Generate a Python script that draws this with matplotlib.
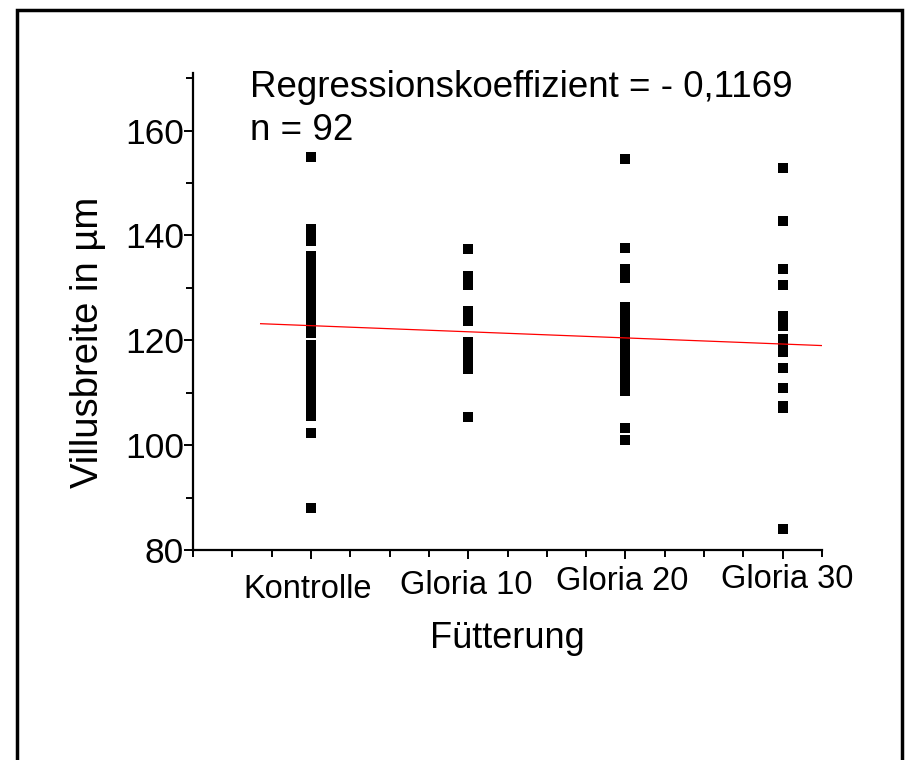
import matplotlib.pyplot as plt
import numpy as np
from matplotlib.patches import Rectangle
from matplotlib.ticker import MultipleLocator

plt.rcParams['font.family'] = ['Liberation Sans', 'DejaVu Sans']

# data
groups = ['Kontrolle', 'Gloria 10', 'Gloria 20', 'Gloria 30']
kontrolle = [155.0, 141.2, 140.5, 139.8, 139.0,
             136.0, 135.3, 134.8, 133.5, 132.2, 131.0, 130.3, 129.6, 128.3,
             127.0, 126.5, 125.8, 124.5, 123.0, 121.4,
             119.1, 118.2, 117.8, 116.5, 115.3, 114.0, 113.2, 112.8, 111.5,
             110.3, 109.0, 107.8, 106.7, 105.6, 102.4, 88.1]
gloria10 = [137.4, 132.3, 132.0, 130.5, 125.6, 123.6, 119.6, 119.0, 118.3,
            118.0, 117.6, 117.0, 116.5, 115.8, 115.2, 114.6, 105.3, 131.8]
gloria20 = [154.5, 137.6, 133.6, 132.6, 131.9, 126.4, 125.5, 124.2, 123.0,
            122.0, 121.0, 120.3, 119.5, 118.5, 117.2, 116.0, 115.0, 113.8,
            112.5, 111.3, 110.4, 103.2, 100.9]
gloria30 = [152.8, 142.8, 133.7, 130.5, 124.6, 123.6, 122.8, 120.2, 119.0,
            117.7, 114.7, 111.0, 107.4, 107.0, 84.1]
series = [kontrolle, gloria10, gloria20, gloria30]

# linear fit: slope per % Gloria, intercept at 0 %
slope = -0.1169
intercept = 122.8
fit_range = [0.68, 4.25]

fig = plt.figure(figsize=(9.06, 7.6), dpi=100)
W, H = 906, 760
ax = fig.add_axes([193 / W, 1 - 550 / H, (822 - 193) / W, (550 - 73) / H])

for i, vals in enumerate(series):
    ax.plot(np.full(len(vals), i + 1), vals, 's', color='black',
            markersize=6.8, markeredgewidth=0, clip_on=False)

xf = np.array(fit_range)
ax.plot(xf, intercept + slope * (xf - 1) * 10, color='red', linewidth=0.9)

ax.set_xlim(0.25, 4.25)
ax.set_ylim(80, 171)
for s in ['top', 'right']:
    ax.spines[s].set_visible(False)
for s in ['left', 'bottom']:
    ax.spines[s].set_linewidth(1.6)

ax.xaxis.set_major_locator(MultipleLocator(1))
ax.xaxis.set_minor_locator(MultipleLocator(0.25))
ax.yaxis.set_major_locator(MultipleLocator(20))
ax.yaxis.set_minor_locator(MultipleLocator(10))
ax.tick_params(which='major', direction='out', length=6.5, width=1.4,
               labelsize=25.5, pad=0)
ax.tick_params(which='minor', direction='out', length=5, width=1.4)
ax.set_xticklabels([])

# category labels sit a little staggered in the original
label_x = [308, 466, 622, 787]
label_y = [589, 586, 582, 579]
for g, lx, ly in zip(groups, label_x, label_y):
    fig.text(lx / W, 1 - ly / H, g, fontsize=23.5, ha='center', va='center')

fig.text(507 / W, 1 - 639 / H, 'Fütterung', fontsize=26,
         ha='center', va='center')
fig.text(88 / W, 1 - 342 / H, 'Villusbreite in µm', fontsize=27.5,
         ha='center', va='center', rotation=90)

fig.text(250 / W, 1 - 97 / H, 'Regressionskoeffizient = - 0,1169',
         fontsize=26.5, ha='left', va='baseline')
fig.text(250 / W, 1 - 140 / H, 'n = 92', fontsize=26.5,
         ha='left', va='baseline')

# outer frame (bottom edge falls outside the image)
fig.patches.append(Rectangle((17 / W, -0.05), (902 - 17) / W, 1.05 - 10 / H,
                             transform=fig.transFigure, fill=False,
                             edgecolor='black', linewidth=2.5))

plt.savefig('out.png', dpi=100)
